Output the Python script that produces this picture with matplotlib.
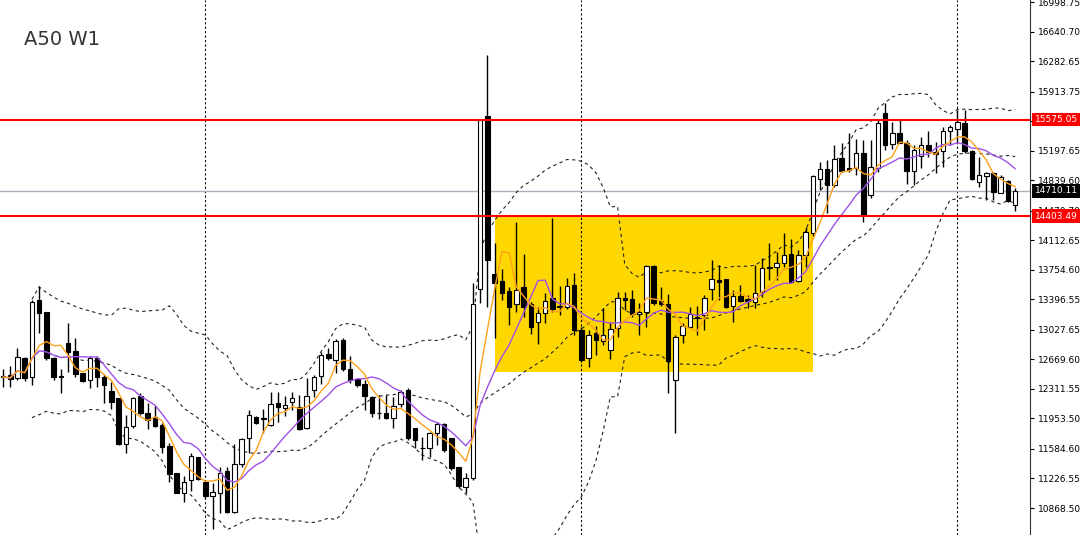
import numpy as np
import pandas as pd
import matplotlib
matplotlib.use("Agg")
import matplotlib.pyplot as plt
from matplotlib.patches import Rectangle

# weekly A50 candles
opens = [
    12460, 12476, 12440, 12686, 12459, 13388, 13239, 12686, 12468, 12864,
    12774, 12500, 12419, 12690, 12459, 12290, 12198, 11644, 11866, 12226,
    12023, 11967, 11874, 11623, 11296, 11047, 11208, 11483, 11184, 11018,
    11047, 11317, 10824, 11402, 11713, 11975, 11959, 11874, 12137, 12080,
    12156, 12096, 11834, 12298, 12468, 12734, 12662, 12904, 12549, 12428,
    12371, 12217, 12020, 12016, 11955, 12128, 12298, 11834, 11595, 11592,
    11781, 11886, 11713, 11362, 11119, 11228, 13518, 15618, 13703, 13622,
    13497, 13340, 13542, 13340, 13126, 13227, 13409, 13316, 13307, 13570,
    13025, 12682, 12985, 12895, 12783, 13046, 13416, 13397, 13219, 13247,
    13800, 13380, 13340, 12419, 12964, 13065, 13182, 13207, 13518, 13631,
    13639, 13316, 13437, 13397, 13368, 13489, 13792, 13792, 13840, 13946,
    13622, 13934, 14197, 14851, 14972, 14782, 15105, 14984, 14984, 15173,
    14661, 14984, 15658, 15278, 15415, 15287, 14955, 15133, 15266, 15185,
    15197, 15440, 15456, 15536, 15197, 14822, 14891, 14923, 14688, 14834,
    14539]
closes = [
    12455, 12435, 12702, 12440, 13368, 13235, 12682, 12452, 12456, 12762,
    12492, 12411, 12682, 12459, 12359, 12156, 11644, 11846, 12198, 12016,
    11935, 11866, 11611, 11280, 11047, 11187, 11499, 11216, 11014, 11066,
    11296, 10824, 11402, 11701, 11995, 11895, 11947, 12128, 12096, 12113,
    12205, 11822, 12226, 12452, 12722, 12682, 12895, 12549, 12419, 12359,
    12226, 12023, 12016, 11955, 12104, 12278, 11720, 11692, 11590, 11774,
    11886, 11571, 11350, 11135, 11228, 13340, 15569, 13873, 13591, 13477,
    13300, 13510, 13300, 13058, 13227, 13380, 13276, 13304, 13562, 13025,
    12662, 12964, 12904, 12964, 13033, 13416, 13388, 13215, 13247, 13800,
    13348, 13340, 12653, 12937, 13073, 13219, 13176, 13416, 13639, 13610,
    13300, 13437, 13380, 13380, 13477, 13772, 13772, 13840, 13934, 13610,
    13934, 14216, 14891, 14972, 14782, 15093, 14955, 14963, 15173, 14418,
    14996, 15536, 15266, 15408, 15294, 14955, 15206, 15266, 15185, 15157,
    15440, 15481, 15549, 15197, 14851, 14903, 14931, 14701, 14875, 14591,
    14710.11]
highs = [
    12549, 12589, 12803, 12702, 13388, 13558, 13247, 12702, 12549, 13106,
    12924, 12500, 12710, 12710, 12492, 12399, 12198, 11995, 12217, 12258,
    12137, 12116, 11895, 11652, 11296, 11256, 11538, 11490, 11208, 11168,
    11369, 11369, 11644, 11713, 12056, 11983, 12064, 12278, 12278, 12226,
    12278, 12238, 12440, 12480, 12762, 12803, 12912, 12924, 12710, 12440,
    12419, 12226, 12238, 12238, 12217, 12298, 12319, 11834, 11732, 11793,
    11914, 11895, 11720, 11369, 11289, 13591, 15581, 16357, 14075, 13760,
    13550, 14337, 13946, 13368, 13307, 13470, 14378, 13558, 13651, 13712,
    13058, 13025, 13073, 13288, 13126, 13489, 13489, 13510, 13348, 13812,
    13812, 13550, 13461, 12964, 13113, 13307, 13316, 13449, 13873, 13812,
    13647, 13510, 13570, 13449, 13812, 13894, 14075, 13974, 14197, 14124,
    13994, 14276, 14903, 15064, 15085, 15266, 15287, 15408, 15335, 15327,
    15327, 15569, 15771, 15549, 15569, 15327, 15266, 15367, 15440, 15306,
    15488, 15509, 15690, 15690, 15206, 15125, 14943, 14943, 14903, 14842,
    14742]
lows = [
    12331, 12331, 12419, 12411, 12355, 12992, 12662, 12419, 12265, 12520,
    12459, 12399, 12319, 12331, 12137, 12064, 11632, 11538, 11834, 11995,
    11822, 11854, 11538, 11187, 11047, 10945, 11078, 11208, 10990, 10611,
    10804, 10812, 10804, 11369, 11538, 11883, 11774, 11862, 11914, 11983,
    12056, 11813, 11822, 12217, 12371, 12662, 12500, 12532, 12379, 12338,
    12056, 11975, 11943, 11943, 11834, 12089, 11690, 11592, 11450, 11490,
    11632, 11551, 11329, 11107, 11054, 11208, 13348, 13307, 12924, 13388,
    13086, 13247, 13186, 12977, 12855, 13106, 13247, 13207, 13276, 12964,
    12641, 12580, 12722, 12843, 12670, 12944, 13267, 13186, 12964, 13058,
    13328, 13316, 12258, 11774, 12864, 13046, 12964, 13025, 13388, 13388,
    13288, 13126, 13368, 13288, 13288, 13428, 13631, 13631, 13792, 13591,
    13610, 13792, 14164, 14721, 14439, 14761, 14943, 14943, 14903, 14337,
    14621, 14943, 15206, 15214, 15287, 14794, 14782, 14984, 15125, 14923,
    15003, 15266, 15287, 15166, 14842, 14761, 14600, 14600, 14681, 14579,
    14470]

tick_prices = [16998.75, 16640.70, 16282.65, 15913.75, 15555.70, 15197.65,
               14839.60, 14470.70, 14112.65, 13754.60, 13396.55, 13027.65,
               12669.60, 12311.55, 11953.50, 11584.60, 11226.55, 10868.50]
resistance = 15575.05
support = 14403.49
last_price = 14710.11
year_starts = [28, 80, 132]          # bar index of the period separators
zone_bars = (68, 112)                # yellow box, first/last bar
zone_prices = (12520, 14403.49)

df = pd.DataFrame({"open": opens, "high": highs, "low": lows, "close": closes})
x = np.arange(len(df))
ma_fast = df["close"].rolling(5, min_periods=1).mean()
ma_slow = df["close"].rolling(10, min_periods=1).mean()
bb_mid = df["close"].rolling(20, min_periods=5).mean()
bb_std = df["close"].rolling(20, min_periods=5).std(ddof=0)
bb_up = bb_mid + 2 * bb_std
bb_lo = bb_mid - 2 * bb_std

fig = plt.figure(figsize=(10.8, 5.35), dpi=100)
ax = fig.add_axes([0, 0, 1030 / 1080, 1])
ax.set_xlim(-0.42, 142.05)
ax.set_ylim(10541.5, 17023)

# zone, separators, levels
ax.add_patch(Rectangle((zone_bars[0], zone_prices[0]), zone_bars[1] - zone_bars[0],
                       zone_prices[1] - zone_prices[0], facecolor="#FFD700",
                       edgecolor="none", zorder=0))
for b in year_starts:
    ax.axvline(b, color="black", lw=0.8, ls=(0, (2, 2)), zorder=1)
ax.axhline(last_price, color="#A9B0BC", lw=1, zorder=1)

# bollinger bands
for s in (bb_up, bb_mid, bb_lo):
    ax.plot(x, s, color="#222222", lw=0.8, ls=(0, (3, 3)), zorder=2)

# candles
up = df["close"] >= df["open"]
ax.vlines(x, df["low"], df["high"], color="black", lw=1, zorder=3)
body_lo = np.minimum(df["open"], df["close"])
body_h = np.maximum(np.abs(df["close"] - df["open"]), 8)
ax.bar(x[up], body_h[up], bottom=body_lo[up], width=0.62, color="white",
       edgecolor="black", linewidth=0.8, zorder=4)
ax.bar(x[~up], body_h[~up], bottom=body_lo[~up], width=0.62, color="black",
       edgecolor="black", linewidth=0.8, zorder=4)

# moving averages
ax.plot(x, ma_slow, color="#A050E8", lw=1, zorder=5)
ax.plot(x, ma_fast, color="#FFA21A", lw=1, zorder=5)

ax.axhline(resistance, color="#FF0000", lw=1.5, zorder=6)
ax.axhline(support, color="#FF0000", lw=1.5, zorder=6)

# axis styling
for side in ("left", "top", "bottom"):
    ax.spines[side].set_visible(False)
ax.spines["right"].set_color("#333333")
ax.set_xticks([])
ax.yaxis.tick_right()
ax.set_yticks(tick_prices)
ax.set_yticklabels([f"{p:.2f}" for p in tick_prices])
ax.tick_params(axis="y", labelsize=6.5, length=3, pad=3, colors="black")

ytr = ax.get_yaxis_transform()
for price, bg in ((resistance, "#FF0000"), (support, "#FF0000"), (last_price, "black")):
    ax.text(1.0045, price, f"{price:.2f}", transform=ytr, color="white",
            fontsize=6.5, va="center", ha="left", clip_on=False, zorder=10,
            bbox=dict(facecolor=bg, edgecolor="none", pad=1.6))

fig.text(0.022, 0.927, "A50 W1", fontsize=14, color="#333333", va="center")

fig.savefig("out.png", dpi=100, facecolor="white")
